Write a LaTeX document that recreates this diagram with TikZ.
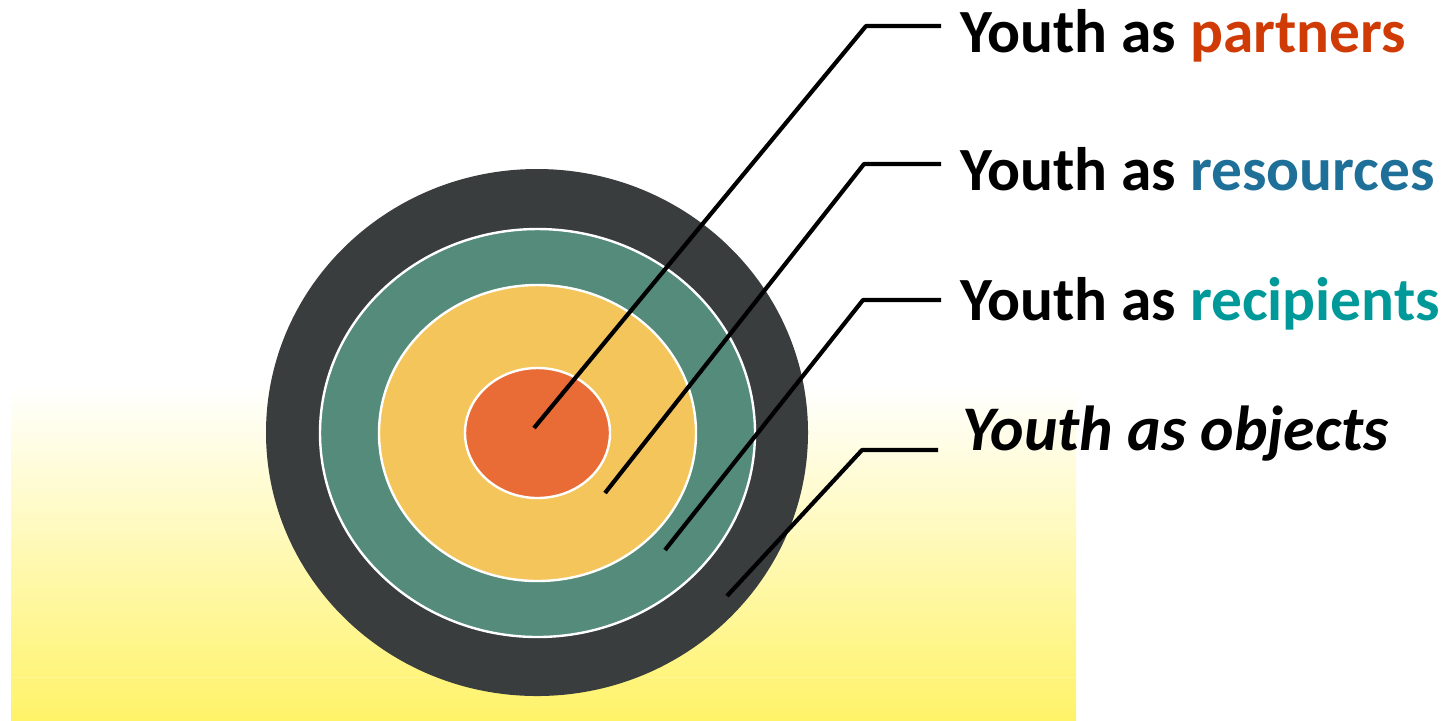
\documentclass[tikz,border=0pt]{standalone}
\usepackage{fontspec}
\setmainfont{Carlito}
\usetikzlibrary{shapes.geometric}
\definecolor{ringdark}{RGB}{58,61,61}
\definecolor{ringgreen}{RGB}{84,139,123}
\definecolor{ringyellow}{RGB}{244,197,90}
\definecolor{ringorange}{RGB}{233,107,53}
\definecolor{cpartners}{RGB}{208,58,4}
\definecolor{cresources}{RGB}{31,112,152}
\definecolor{crecipients}{RGB}{0,153,153}
\definecolor{yelA}{RGB}{255,250,190}
\definecolor{yelB}{RGB}{255,243,105}
\begin{document}
\begin{tikzpicture}[x=0.5pt,y=-0.5pt,
  ring/.style={ellipse, inner sep=0pt, outer sep=0pt},
  pointer/.style={draw=black, line width=2.1pt, line join=round},
  label/.style={anchor=base west, inner sep=0pt, font=\fontsize{30.7}{36}\selectfont\bfseries}]
\useasboundingbox (0,0) rectangle (1443,720);
\fill[white] (0,0) rectangle (1443,720);
% watercolor background
\shade[top color=white, middle color=yelA, bottom color=yelB] (11,385) rectangle (1076,720);
\fill[white, opacity=0.2] (11,677) rectangle (1076,678);
% target rings
\node[ring, fill=ringdark, minimum width=271pt, minimum height=263.5pt] (outer) at (537,432.5) {};
\node[ring, fill=ringgreen, draw=white, line width=1.2pt, minimum width=217.5pt, minimum height=204pt] (green) at (537.5,433) {};
\node[ring, fill=ringyellow, draw=white, line width=1.2pt, minimum width=158.5pt, minimum height=148pt] (yellow) at (537.5,433) {};
\node[ring, fill=ringorange, draw=white, line width=1.2pt, minimum width=72.5pt, minimum height=65pt] (orange) at (537.5,433) {};
% pointer end points
\coordinate (p1) at (534,428);
\coordinate (p2) at (605,493);
\coordinate (p3) at (665,550);
\coordinate (p4) at (727,596);
\coordinate (k1) at (866,26);
\coordinate (k2) at (864,164);
\coordinate (k3) at (863,300);
\coordinate (k4) at (862,450);
\coordinate (h1) at (941,26);
\coordinate (h2) at (941,164);
\coordinate (h3) at (941,300);
\coordinate (h4) at (938,450);
\draw[pointer] (p1) -- (k1) -- (h1);
\draw[pointer] (p2) -- (k2) -- (h2);
\draw[pointer] (p3) -- (k3) -- (h3);
\draw[pointer] (p4) -- (k4) -- (h4);
% labels
\node[label] (t1) at (960,52) {Youth as \textcolor{cpartners}{partners}};
\node[label] (t2) at (960,190) {Youth as \textcolor{cresources}{resources}};
\node[label] (t3) at (960,320) {Youth as \textcolor{crecipients}{recipients}};
\node[label, font=\fontsize{31.8}{36}\selectfont\bfseries\itshape] (t4) at (962,450) {Youth as objects};
\end{tikzpicture}
\end{document}
